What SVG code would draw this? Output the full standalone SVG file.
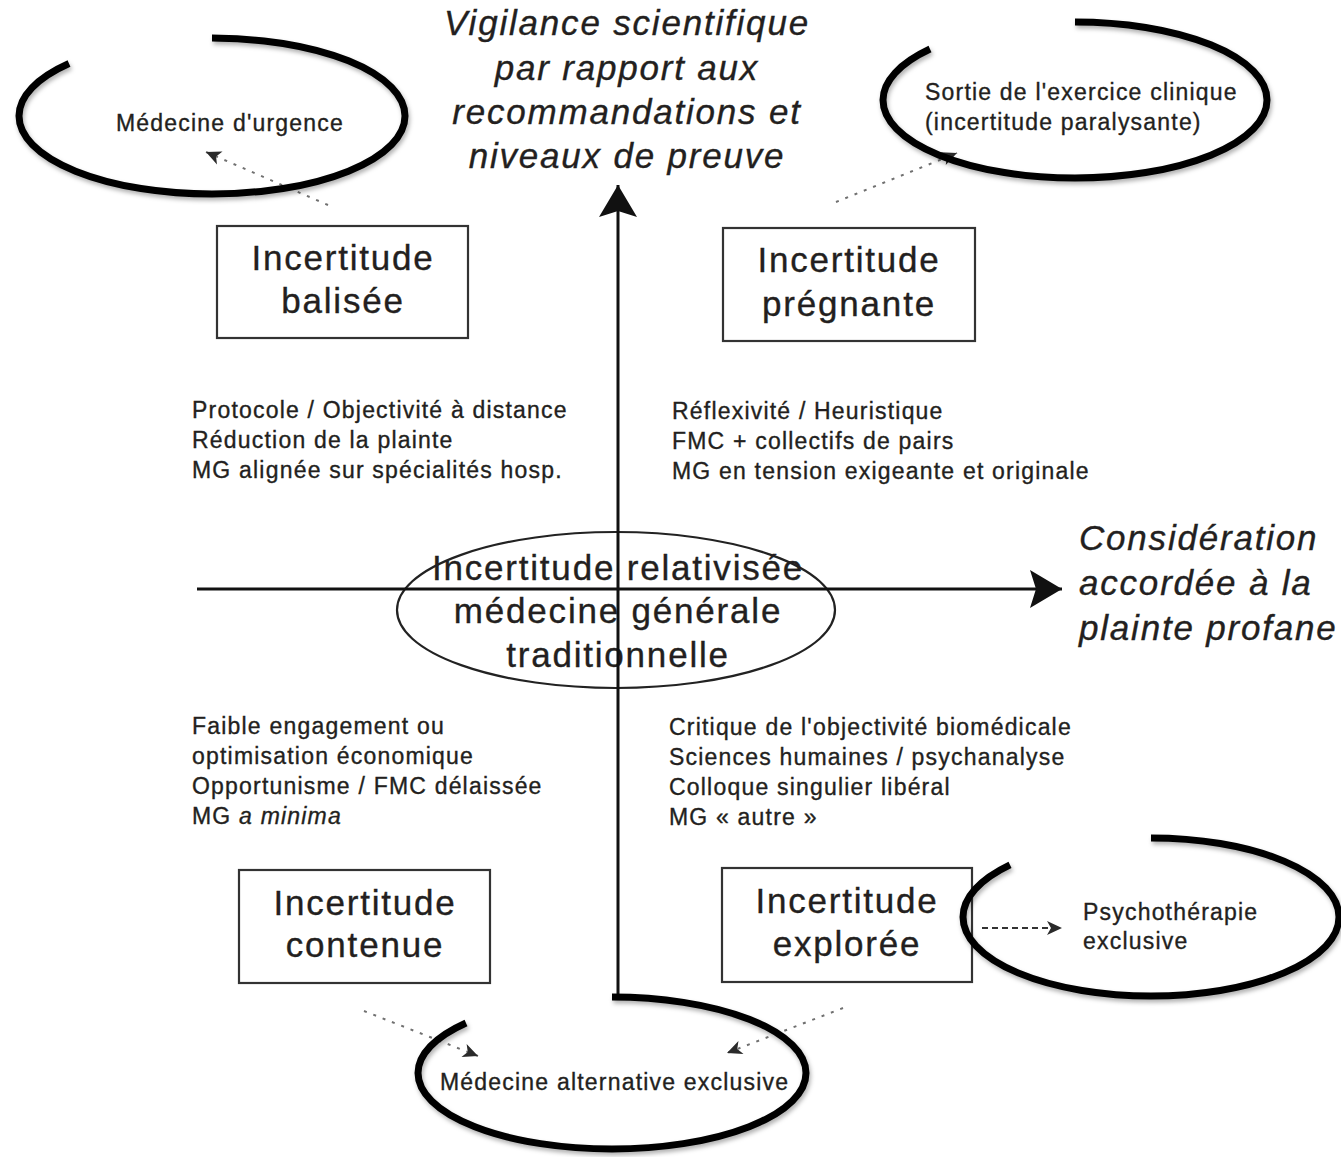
<svg xmlns="http://www.w3.org/2000/svg" width="1341" height="1157" viewBox="0 0 1341 1157">
  <style>
    text { font-family: "Liberation Sans", Arial, sans-serif; fill: #231f20; stroke: #231f20; stroke-width: 0.35; }
    .small { font-size: 23px; letter-spacing: 1.2px; }
    .big { font-size: 35px; letter-spacing: 1.8px; text-anchor: middle; }
    .axis-label { font-size: 35px; letter-spacing: 1.8px; font-style: italic; }
    .box { fill: #fff; stroke: #333; stroke-width: 2.2; }
    .core { fill: none; stroke: #222; stroke-width: 2.2; }
    .outcome { fill: none; stroke: #000; stroke-width: 7; filter: url(#soft); }
    .axis { stroke: #111; stroke-width: 3; fill: none; }
    .dotted { stroke: #707070; stroke-width: 2; stroke-dasharray: 3 7; fill: none; }
    .dashed { stroke: #333; stroke-width: 1.8; stroke-dasharray: 6 4; fill: none; }
  </style>
  <defs>
    <marker id="axis-head" markerUnits="userSpaceOnUse" viewBox="-34 -20 36 40" refX="0" refY="0" markerWidth="36" markerHeight="40" orient="auto">
      <path d="M0,0 L-32,-19 L-26,0 L-32,19 Z" fill="#111"/>
    </marker>
    <marker id="dot-head" markerUnits="userSpaceOnUse" viewBox="-16 -8 18 16" refX="0" refY="0" markerWidth="18" markerHeight="16" orient="auto">
      <path d="M0,0 L-15,-7 L-11,0 L-15,7 Z" fill="#2a2a2a"/>
    </marker>
    <filter id="soft" x="-10%" y="-20%" width="120%" height="150%">
      <feDropShadow dx="1.5" dy="3" stdDeviation="2" flood-color="#000" flood-opacity="0.3"/>
    </filter>
  </defs>

  <rect width="1341" height="1157" fill="#fff"/>

  <!-- axis titles -->
  <g id="axis-vertical-label" class="axis-label" text-anchor="middle">
    <text x="627" y="35">Vigilance scientifique</text>
    <text x="627" y="80">par rapport aux</text>
    <text x="627" y="124">recommandations et</text>
    <text x="627" y="168">niveaux de preuve</text>
  </g>
  <g id="axis-horizontal-label" class="axis-label">
    <text x="1079" y="550">Considération</text>
    <text x="1079" y="595">accordée à la</text>
    <text x="1079" y="640">plainte profane</text>
  </g>

  <!-- quadrant boxes -->
  <g id="box-balisee">
    <rect class="box" x="217" y="226" width="251" height="112"/>
    <text class="big" x="343" y="270">Incertitude</text>
    <text class="big" x="343" y="313">balisée</text>
  </g>
  <g id="box-pregnante">
    <rect class="box" x="723" y="228" width="252" height="113"/>
    <text class="big" x="849" y="272">Incertitude</text>
    <text class="big" x="849" y="316">prégnante</text>
  </g>
  <g id="box-contenue">
    <rect class="box" x="239" y="870" width="251" height="113"/>
    <text class="big" x="365" y="915">Incertitude</text>
    <text class="big" x="365" y="957">contenue</text>
  </g>
  <g id="box-exploree">
    <rect class="box" x="722" y="868" width="250" height="114"/>
    <text class="big" x="847" y="913">Incertitude</text>
    <text class="big" x="847" y="956">explorée</text>
  </g>

  <!-- quadrant descriptions -->
  <g id="text-top-left" class="small">
    <text x="192" y="418">Protocole / Objectivité à distance</text>
    <text x="192" y="448">Réduction de la plainte</text>
    <text x="192" y="478">MG alignée sur spécialités hosp.</text>
  </g>
  <g id="text-top-right" class="small">
    <text x="672" y="419">Réflexivité / Heuristique</text>
    <text x="672" y="449">FMC + collectifs de pairs</text>
    <text x="672" y="479">MG en tension exigeante et originale</text>
  </g>
  <g id="text-bottom-left" class="small">
    <text x="192" y="734">Faible engagement ou</text>
    <text x="192" y="764">optimisation économique</text>
    <text x="192" y="794">Opportunisme / FMC délaissée</text>
    <text x="192" y="824">MG <tspan font-style="italic">a minima</tspan></text>
  </g>
  <g id="text-bottom-right" class="small">
    <text x="669" y="735">Critique de l'objectivité biomédicale</text>
    <text x="669" y="765">Sciences humaines / psychanalyse</text>
    <text x="669" y="795">Colloque singulier libéral</text>
    <text x="669" y="825">MG « autre »</text>
  </g>

  <!-- central node -->
  <g id="node-relativisee">
    <ellipse class="core" cx="616" cy="610" rx="219" ry="78"/>
    <text class="big" x="618" y="580">Incertitude relativisée</text>
    <text class="big" x="618" y="623">médecine générale</text>
    <text class="big" x="618" y="667">traditionnelle</text>
  </g>

  <!-- outcome labels -->
  <g id="node-urgence">
    <text class="small" x="116" y="131">Médecine d'urgence</text>
  </g>
  <g id="node-sortie">
    <text class="small" x="925" y="100">Sortie de l'exercice clinique</text>
    <text class="small" x="925" y="130">(incertitude paralysante)</text>
  </g>
  <g id="node-psychotherapie">
    <text class="small" x="1083" y="920">Psychothérapie</text>
    <text class="small" x="1083" y="949">exclusive</text>
  </g>
  <g id="node-alternative">
    <text class="small" x="440" y="1090">Médecine alternative exclusive</text>
  </g>

  <!-- connectors: axes and drift arrows -->
  <g id="connectors">
    <line class="axis" x1="618" y1="998" x2="618" y2="185" marker-end="url(#axis-head)"/>
    <line class="axis" x1="197" y1="589" x2="1062" y2="589" marker-end="url(#axis-head)"/>
    <line class="dotted" x1="328" y1="205" x2="206" y2="152" marker-end="url(#dot-head)"/>
    <line class="dotted" x1="836" y1="202" x2="957" y2="153" marker-end="url(#dot-head)"/>
    <line class="dotted" x1="364" y1="1011" x2="478" y2="1056" marker-end="url(#dot-head)"/>
    <line class="dotted" x1="843" y1="1008" x2="727" y2="1053" marker-end="url(#dot-head)"/>
    <line class="dashed" x1="982" y1="928" x2="1062" y2="928" marker-end="url(#dot-head)"/>
  </g>

  <!-- open hand-drawn rings around the outcomes -->
  <g id="rings">
    <path class="outcome" d="M212,38 A193,78 0 0 1 405,116 A193,78 0 0 1 212,194 A193,78 0 0 1 19,116 A193,78 0 0 1 69,63.5"/>
    <path class="outcome" d="M1075,22 A192,78 0 0 1 1267,100 A192,78 0 0 1 1075,178 A192,78 0 0 1 883,100 A192,78 0 0 1 930,49"/>
    <path class="outcome" d="M1151,838 A188,79 0 0 1 1339,917 A188,79 0 0 1 1151,996 A188,79 0 0 1 963,917 A188,79 0 0 1 1010,864.8"/>
    <path class="outcome" d="M612,997 A194,76 0 0 1 806,1073 A194,76 0 0 1 612,1149 A194,76 0 0 1 418,1073 A194,76 0 0 1 466,1023"/>
  </g>
</svg>
